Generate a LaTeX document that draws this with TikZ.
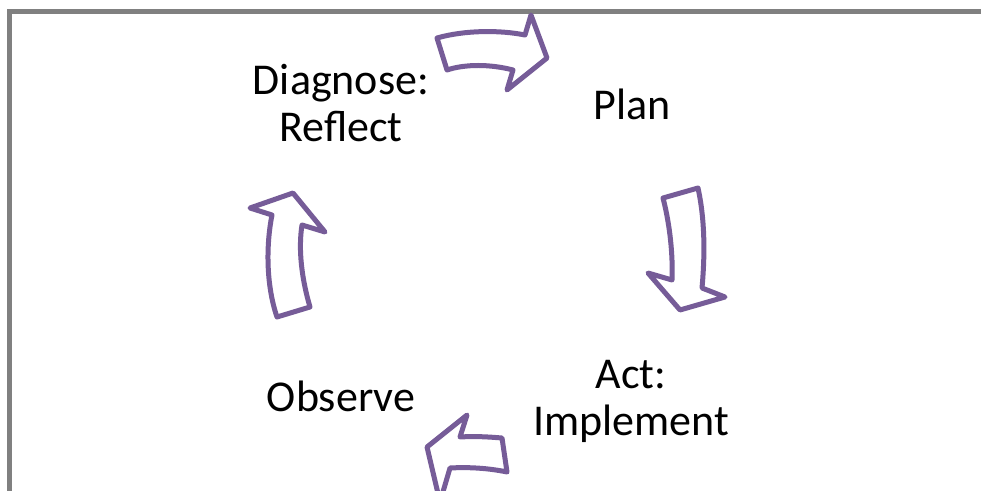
\documentclass[tikz,border=0pt]{standalone}
\usepackage{fontspec}
\setmainfont{Carlito}
\definecolor{arrowpurple}{RGB}{118,92,152}
\definecolor{framegray}{RGB}{128,128,128}
\tikzset{
  cyclearrow/.style={draw=arrowpurple, line width=3.75pt, line join=round, fill=white},
  frameline/.style={draw=framegray, line width=3.75pt},
  steplabel/.style={inner sep=0pt, anchor=base, align=center, font=\fontsize{33pt}{35.25pt}\selectfont}
}
\begin{document}
\begin{tikzpicture}[x=0.75pt, y=-0.75pt]
\useasboundingbox (0,0) rectangle (981,491);
\clip (0,0) rectangle (981,491);
\fill[white] (0,0) rectangle (981,491);
% frame
\coordinate (f1) at (9.5,500);
\coordinate (f2) at (9.5,11.5);
\coordinate (f3) at (990,11.5);
\draw[frameline] (f1) -- (f2) -- (f3);
% arrows
\draw[cyclearrow] (437,38) .. controls (465,30) and (500,30) .. (525,35) -- (531,15) -- (547,58) -- (507,90) -- (513,70) .. controls (490,64) and (465,64) .. (447,70) -- cycle;
\draw[cyclearrow] (663,198) -- (698,188) .. controls (705,220) and (705,255) .. (702,288) -- (725,297) -- (680,310) -- (648,273) -- (672,280) .. controls (673,255) and (670,225) .. (663,198) -- cycle;
\draw[cyclearrow] (502,438) -- (507,472) .. controls (488,468) and (468,467) .. (450,468) -- (440,502) -- (427,447) -- (467,415) -- (460,437) .. controls (475,436) and (490,437) .. (502,438) -- cycle;
\draw[cyclearrow] (277,317) .. controls (266,285) and (266,245) .. (272,215) -- (250,208) -- (293,193) -- (325,232) -- (302,225) .. controls (298,250) and (302,280) .. (310,307) -- cycle;
% labels (anchor base = baseline of last line)
\node[steplabel] (diag) at (341,142) {Diagnose:\\Reflect};
\node[steplabel] (plan) at (632,119.5) {Plan};
\node[steplabel] (act) at (631,435) {Act:\\Implement};
\node[steplabel] (obs) at (341,411) {Observe};
\end{tikzpicture}
\end{document}
